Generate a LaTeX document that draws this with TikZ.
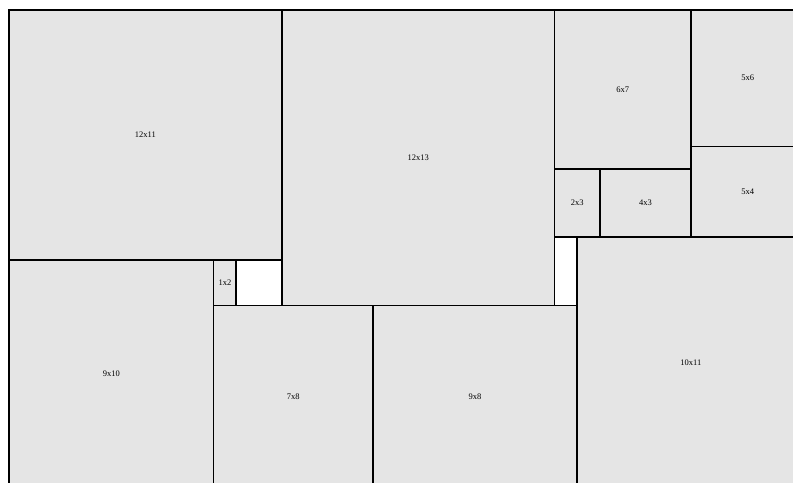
\documentclass[tikz,border=0pt]{standalone}
\usepackage{fontspec}
\setmainfont{Liberation Serif}
\definecolor{blkfill}{HTML}{E5E5E5}
\tikzset{
  blk/.style={fill=blkfill, rectangle, inner sep=0pt, outer sep=0pt, font=\fontsize{8.5}{10}\selectfont},
  edge/.style={draw=black, line width=1.7pt},
}
\newcommand\blk[5]{\node[blk, minimum width=#3*22.73pt, minimum height=#4*22.73pt] (#5) at (#1+#3/2, #2+#4/2) {#3x#4};}
\begin{document}
\begin{tikzpicture}[x=22.73pt, y=-22.73pt]
\useasboundingbox (-0.396,-0.44) rectangle (34.49,20.77);
\clip (-0.396,-0.44) rectangle (34.49,20.77);
\fill[white] (-0.396,-0.44) rectangle (34.49,20.77);
\blk{0}{0}{12}{11}{a}
\blk{0}{11}{9}{10}{b}
\blk{9}{11}{1}{2}{c}
\blk{12}{0}{12}{13}{d}
\blk{9}{13}{7}{8}{e}
\blk{16}{13}{9}{8}{f}
\blk{24}{0}{6}{7}{g}
\blk{30}{0}{5}{6}{h}
\blk{24}{7}{2}{3}{i}
\blk{26}{7}{4}{3}{j}
\blk{30}{6}{5}{4}{k}
\blk{25}{10}{10}{11}{l}
\foreach \n in {a,b,c,d,e,f,g,h,i,j,k,l}
  \draw[edge] (\n.north west) rectangle (\n.south east);
\end{tikzpicture}
\end{document}
